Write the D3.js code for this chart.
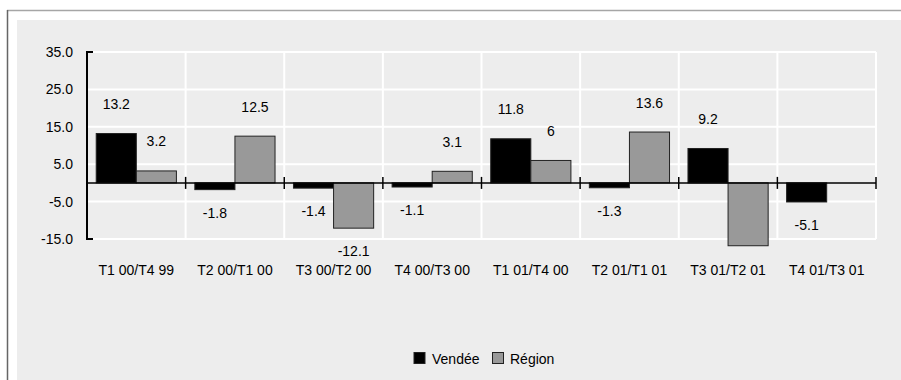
<!DOCTYPE html>
<html><head><meta charset="utf-8">
<script src="https://cdn.jsdelivr.net/npm/d3@7"></script>
<style>
body{margin:0;background:#fff;}
text{font-family:"Liberation Sans",Arial,sans-serif;}
</style></head>
<body><svg id="c" width="901" height="380"></svg>
<script>
const categories = ["T1 00/T4 99","T2 00/T1 00","T3 00/T2 00","T4 00/T3 00","T1 01/T4 00","T2 01/T1 01","T3 01/T2 01","T4 01/T3 01"];
const vendee = [13.2,-1.8,-1.4,-1.1,11.8,-1.3,9.2,-5.1];
const region = [3.2,12.5,-12.1,3.1,6,13.6,-16.8,null];
const regionLabels = ["3.2","12.5","-12.1","3.1","6","13.6",null,null];
const vendeeLabels = ["13.2","-1.8","-1.4","-1.1","11.8","-1.3","9.2","-5.1"];
const yTicks = [35,25,15,5,-5,-15];
const seriesNames = ["Vendée","Région"];
const colors = ["#000000","#999999"];

const svg = d3.select("#c");
// outer frame
svg.append("rect").attr("x",17).attr("y",20).attr("width",890).attr("height",370).attr("fill","#ededed");
svg.append("line").attr("x1",7).attr("x2",901).attr("y1",10.5).attr("y2",10.5).attr("stroke","#a6a6a6").attr("stroke-width",1.5);
svg.append("line").attr("x1",7.5).attr("x2",7.5).attr("y1",10).attr("y2",380).attr("stroke","#666").attr("stroke-width",1.5);

const pL=87, pR=876, pT=52, pB=239;
const x = d3.scaleBand().domain(categories).range([pL,pR]);
const y = d3.scaleLinear().domain([-15,35]).range([pB,pT]);
const x1 = d3.scaleBand().domain(seriesNames).range([0,x.bandwidth()]).paddingOuter(0.23).paddingInner(0);

// grid
const g = svg.append("g");
g.selectAll(".hg").data(yTicks).join("line")
  .attr("x1",pL).attr("x2",pR).attr("y1",d=>y(d)).attr("y2",d=>y(d))
  .attr("stroke","#fff").attr("stroke-width",2);
const bounds = categories.map(c=>x(c)+x.bandwidth()).concat([pL]);
g.selectAll(".vg").data(bounds).join("line")
  .attr("x1",d=>d).attr("x2",d=>d).attr("y1",pT).attr("y2",pB)
  .attr("stroke","#fff").attr("stroke-width",2);

// bars
const bars = svg.append("g");
[vendee,region].forEach((vals,si)=>{
  bars.selectAll(".b"+si).data(categories.map((c,i)=>({c,v:vals[i]})).filter(d=>d.v!==null)).join("rect")
    .attr("x",d=>x(d.c)+x1(seriesNames[si]))
    .attr("width",x1.bandwidth())
    .attr("y",d=>y(Math.max(0,d.v)))
    .attr("height",d=>Math.abs(y(d.v)-y(0)))
    .attr("fill",colors[si]).attr("stroke","#222").attr("stroke-width",1);
});

// axes
const yAx = d3.axisLeft(y).tickValues(yTicks).tickSize(0).tickPadding(14).tickFormat(d=>d.toFixed(1));
const ya = svg.append("g").attr("transform",`translate(${pL},0)`).call(yAx);
ya.select(".domain").remove();
ya.selectAll("text").attr("font-size",14).attr("fill","#000").attr("font-family","Liberation Sans, Arial");
svg.append("path").attr("d",`M${pL+6},${pT}H${pL}V${pB}H${pL+6}`).attr("fill","none").attr("stroke","#000").attr("stroke-width",2);

// x axis at zero
const z = y(0);
svg.append("line").attr("x1",pL).attr("x2",pR).attr("y1",z).attr("y2",z).attr("stroke","#000").attr("stroke-width",1.5);
svg.selectAll(".xt").data(bounds.filter(b=>b>pL+1)).join("line")
  .attr("x1",d=>d).attr("x2",d=>d).attr("y1",z-6).attr("y2",z+6).attr("stroke","#000").attr("stroke-width",1.5);

const xAx = d3.axisBottom(x).tickSize(0).tickPadding(0);
const xa = svg.append("g").attr("transform",`translate(0,${pB+31})`).call(xAx);
xa.select(".domain").remove();
xa.selectAll("text").attr("font-size",14).attr("fill","#000").attr("dy","0.35em").attr("font-family","Liberation Sans, Arial");

// data labels
const lab = svg.append("g").attr("font-size",14).attr("text-anchor","middle").attr("fill","#000");
[[vendee,vendeeLabels],[region,regionLabels]].forEach(([vals,labs],si)=>{
  categories.forEach((c,i)=>{
    if(labs[i]===null||vals[i]===null) return;
    const v = vals[i];
    const cx = x(c)+x1(seriesNames[si])+x1.bandwidth()/2;
    const yy = v>=0 ? y(v)-24.5 : y(v)+28;
    lab.append("text").attr("x",cx).attr("y",yy).text(labs[i]);
  });
});

// legend
const leg = svg.append("g").attr("font-size",14);
leg.append("rect").attr("x",414).attr("y",352.5).attr("width",11).attr("height",11).attr("fill","#000").attr("stroke","#222");
leg.append("text").attr("x",432).attr("y",364).text(seriesNames[0]);
leg.append("rect").attr("x",492.5).attr("y",352.5).attr("width",11).attr("height",11).attr("fill","#999").attr("stroke","#222");
leg.append("text").attr("x",510).attr("y",364).text(seriesNames[1]);
</script></body></html>
